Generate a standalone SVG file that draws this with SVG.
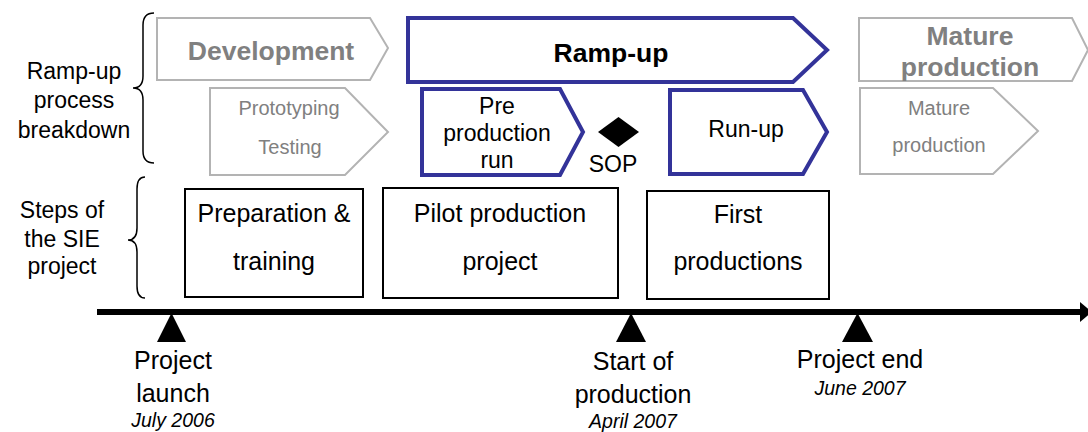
<svg xmlns="http://www.w3.org/2000/svg" width="1088" height="432" viewBox="0 0 1088 432">
<style>
text{font-family:"Liberation Sans",Arial,sans-serif;text-anchor:middle;fill:#000}
.lbl{font-size:23px}
.big{font-size:26.5px;font-weight:bold}
.gt{fill:#808080}
.gp{fill:#fff;stroke:#b3b3b3;stroke-width:2}
.bp{fill:#fff;stroke:#333399;stroke-width:4}
.box{fill:#fff;stroke:#000;stroke-width:2}
.sm{font-size:20px}
.md{font-size:23px}
.bx{font-size:25px}
.ms{font-size:25px}
.it{font-size:19.5px;font-style:italic}
.brace{fill:none;stroke:#000;stroke-width:1.5}
</style>
<g id="labels">
<text class="lbl" x="74" y="79">Ramp-up</text>
<text class="lbl" x="74" y="108">process</text>
<text class="lbl" x="74" y="138">breakdown</text>
<text class="lbl" x="62" y="218">Steps of</text>
<text class="lbl" x="62" y="247">the SIE</text>
<text class="lbl" x="62" y="274">project</text>
<path class="brace" d="M154,13 Q143,13 143,25 L143,76 Q143,88 133,88 Q143,88 143,100 L143,151 Q143,163 154,163"/>
<path class="brace" d="M145,177 Q137,177 137,189 L137,228 Q137,240 128,240 Q137,240 137,252 L137,286 Q137,298 145,298"/>
</g>
<g id="development">
<polygon class="gp" points="157,18 370,18 388,48 370,80 157,80"/>
<text class="big gt" x="271" y="60">Development</text>
</g>
<g id="rampup">
<polygon class="bp" points="408,18 793,18 827,50 793,82 408,82"/>
<text class="big" x="611" y="62">Ramp-up</text>
</g>
<g id="mature">
<polygon class="gp" points="859,18 1072,18 1088,50 1072,81 859,81"/>
<text class="big gt" x="970" y="45">Mature</text>
<text class="big gt" x="970" y="76">production</text>
</g>
<g id="prototyping">
<polygon class="gp" points="210,88 345,88 388,132 345,175 210,175"/>
<text class="sm gt" x="289" y="115">Prototyping</text>
<text class="sm gt" x="290" y="154">Testing</text>
</g>
<g id="preproduction">
<polygon class="bp" points="422,89 560,89 583,132 560,175 422,175"/>
<text class="md" x="497" y="114">Pre</text>
<text class="md" x="497" y="141">production</text>
<text class="md" x="497" y="168">run</text>
</g>
<g id="sop">
<polygon points="618.5,117 639,132 618.5,147 598,132" fill="#000"/>
<text class="md" x="613" y="172">SOP</text>
</g>
<g id="runup">
<polygon class="bp" points="670,90 803,90 827,132 803,174 670,174"/>
<text class="md" x="746" y="137">Run-up</text>
</g>
<g id="mature2">
<polygon class="gp" points="860,88 993,88 1038,131 993,174 860,174"/>
<text class="sm gt" x="939" y="115">Mature</text>
<text class="sm gt" x="939" y="152">production</text>
</g>
<g id="prep">
<rect class="box" x="185" y="189" width="178" height="108"/>
<text class="bx" x="274" y="222">Preparation &amp;</text>
<text class="bx" x="274" y="270">training</text>
</g>
<g id="pilot">
<rect class="box" x="383" y="188" width="235" height="110"/>
<text class="bx" x="500" y="222">Pilot production</text>
<text class="bx" x="500" y="270">project</text>
</g>
<g id="first">
<rect class="box" x="647" y="191" width="182" height="108"/>
<text class="bx" x="738" y="223">First</text>
<text class="bx" x="738" y="270">productions</text>
</g>
<g id="connectors">
<line x1="97" y1="312" x2="1082" y2="312" stroke="#000" stroke-width="6"/>
<polygon points="1080,302 1092,312 1080,322" fill="#000"/>
</g>
<g id="milestones">
<polygon points="171.5,313 186,342 157,342" fill="#000"/>
<text class="ms" x="173" y="369">Project</text>
<text class="ms" x="173" y="402">launch</text>
<text class="it" x="173" y="427">July 2006</text>
<polygon points="631,313 646,342 616,342" fill="#000"/>
<text class="ms" x="633" y="370">Start of</text>
<text class="ms" x="633" y="403">production</text>
<text class="it" x="633" y="428">April 2007</text>
<polygon points="857.5,313 873,342 842,342" fill="#000"/>
<text class="ms" x="860" y="368">Project end</text>
<text class="it" x="860" y="395">June 2007</text>
</g>
</svg>
